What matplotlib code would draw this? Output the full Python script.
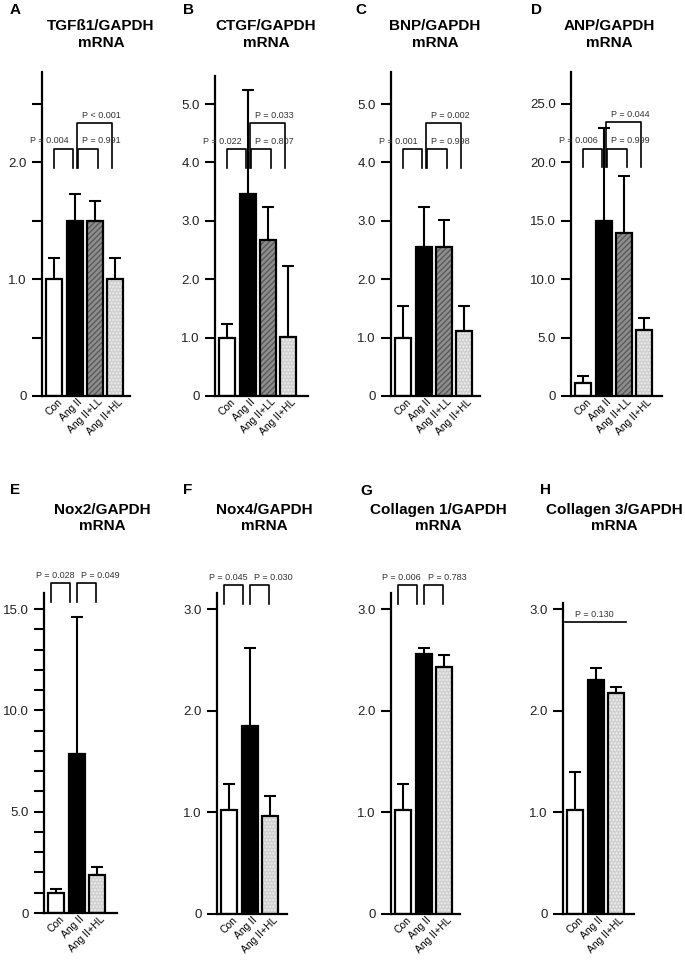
import numpy as np
import matplotlib
matplotlib.use('Agg')
import matplotlib.pyplot as plt
from matplotlib.transforms import ScaledTranslation

plt.rcParams['font.family'] = ['Liberation Sans', 'DejaVu Sans']

# ---- data ----
groups4 = ['Con', 'Ang II', 'Ang II+LL', 'Ang II+HL']
groups3 = ['Con', 'Ang II', 'Ang II+HL']

tgf_mean = [1.0, 1.5, 1.5, 1.0]
tgf_err = [0.18, 0.23, 0.17, 0.18]
ctgf_mean = [1.0, 3.46, 2.68, 1.01]
ctgf_err = [0.24, 1.78, 0.55, 1.22]
bnp_mean = [1.0, 2.56, 2.56, 1.12]
bnp_err = [0.55, 0.67, 0.45, 0.43]
anp_mean = [1.15, 15.0, 13.95, 5.6]
anp_err = [0.55, 7.9, 4.9, 1.1]

nox2_mean = [1.0, 7.85, 1.87]
nox2_err = [0.17, 6.75, 0.38]
nox4_mean = [1.02, 1.85, 0.96]
nox4_err = [0.26, 0.77, 0.2]
col1_mean = [1.02, 2.56, 2.43]
col1_err = [0.26, 0.06, 0.12]
col3_mean = [1.02, 2.30, 2.17]
col3_err = [0.38, 0.12, 0.06]

tgf_p = [(0, 1, 'P = 0.004'), (1, 2, 'P = 0.991'), (1, 3, 'P < 0.001')]
ctgf_p = [(0, 1, 'P = 0.022'), (1, 2, 'P = 0.807'), (1, 3, 'P = 0.033')]
bnp_p = [(0, 1, 'P = 0.001'), (1, 2, 'P = 0.998'), (1, 3, 'P = 0.002')]
anp_p = [(0, 1, 'P = 0.006'), (1, 2, 'P = 0.999'), (1, 3, 'P = 0.044')]
nox2_p = [(0, 1, 'P = 0.028'), (1, 2, 'P = 0.049')]
nox4_p = [(0, 1, 'P = 0.045'), (1, 2, 'P = 0.030')]
col1_p = [(0, 1, 'P = 0.006'), (1, 2, 'P = 0.783')]
col3_p = [(0, 2, 'P = 0.130')]

# ---- styling / layout ----
W, H = 685, 960
fig = plt.figure(figsize=(W / 100, H / 100), dpi=100)

bar_style = {
    'Con': dict(fc='white', hatch=None, hc='white'),
    'Ang II': dict(fc='black', hatch=None, hc='black'),
    'Ang II+LL': dict(fc='#8e8e8e', hatch='//////', hc='#5a5a5a'),
    'Ang II+HL': dict(fc='#d0d0d0', hatch='.....', hc='#eeeeee'),
}

# bracket end offsets (relative to bar index) and p-text offsets for each row
top_br = {(0, 1): (0.0, -0.1), (1, 2): (0.18, 0.13), (1, 3): (0.12, -0.16)}
bot_br = {(0, 1): (-0.25, -0.32), (1, 2): (0.02, -0.04)}
top_txt = (-0.3, 0.38)
bot_txt = (-0.12, 0.23)

lab_shift = ScaledTranslation(6 / 100, 4 / 100, fig.dpi_scale_trans)


def px_axes(x0, x1, y0, y1):
    return fig.add_axes([x0 / W, 1 - y1 / H, (x1 - x0) / W, (y1 - y0) / H])


def panel(box, groups, mean, err, ymax, ticks, labels, title, tpos, letter, lpos,
          pvals, levels, br_off, txt_off):
    ax = px_axes(*box)
    x = np.arange(len(groups))
    for i, g in enumerate(groups):
        s = bar_style[g]
        ax.bar(i, mean[i], width=0.78, color=s['fc'], hatch=s['hatch'],
               edgecolor=s['hc'], linewidth=0, zorder=2)
        ax.bar(i, mean[i], width=0.78, fill=False, edgecolor='black',
               linewidth=1.6, zorder=3)
    ax.errorbar(x, mean, yerr=[np.zeros(len(x)), err], fmt='none', ecolor='black',
                elinewidth=1.5, capsize=4.5, capthick=1.5, zorder=1)
    ax.set_xlim(-0.6, -0.6 + (box[1] - box[0]) / 20.4)
    ax.set_ylim(0, ymax)
    for sp in ['top', 'right']:
        ax.spines[sp].set_visible(False)
    for sp in ['left', 'bottom']:
        ax.spines[sp].set_linewidth(1.6)
    ax.set_yticks(ticks, labels)
    ax.tick_params(axis='y', length=7, width=1.5, labelsize=9.5, pad=4,
                   labelcolor='#222222')
    ax.set_xticks(x, groups, rotation=45, ha='right', va='center',
                  rotation_mode='anchor', fontsize=7.5)
    ax.tick_params(axis='x', length=0, pad=6)
    for lab in ax.get_xticklabels():
        lab.set_transform(lab.get_transform() + lab_shift)

    fig.text(tpos[0] / W, 1 - tpos[1] / H, title + '\nmRNA', ha='center', va='center',
             fontsize=11, fontweight='bold', linespacing=1.25)
    fig.text(lpos[0] / W, 1 - lpos[1] / H, letter, ha='left', va='center',
             fontsize=11, fontweight='bold')

    for k, (i, j, txt) in enumerate(pvals):
        if len(groups) == 3 and len(pvals) == 1:
            # plain line over all groups
            ax.plot([-0.49, 2.49], [levels[0], levels[0]], color='black', lw=1.2,
                    clip_on=False)
            ax.annotate(txt, (0.95, levels[0]), xytext=(0, 5.5), textcoords='offset points',
                        ha='center', va='center', fontsize=6.5, color='#333333',
                        annotation_clip=False)
            continue
        lo, hi = levels[0], levels[1 + (k == 2)]
        a, b = br_off[(i, j)]
        x0, x1 = i + a, j + b
        ax.plot([x0, x0, x1, x1], [lo, hi, hi, lo], color='black', lw=1.2,
                clip_on=False)
        if i == 0:
            xt, ha = j + txt_off[0], 'right'
        else:
            xt, ha = i + txt_off[1], 'left'
        ax.annotate(txt, (xt, hi), xytext=(0, 5.5), textcoords='offset points',
                    ha=ha, va='center', fontsize=6.5, color='#333333',
                    annotation_clip=False)
    return ax


t4 = [0, 1, 2, 3, 4, 5]
t4l = ['0', '1.0', '2.0', '3.0', '4.0', '5.0']
t3 = [0, 1, 2, 3]
t3l = ['0', '1.0', '2.0', '3.0']

panel((42, 130, 72, 396), groups4, tgf_mean, tgf_err, 2.77,
      [0, 0.5, 1, 1.5, 2, 2.5], ['0', '', '1.0', '', '2.0', ''],
      'TGFß1/GAPDH', (101, 34.5), 'A', (10, 10.5),
      tgf_p, (1.95, 2.115, 2.335), top_br, top_txt)
panel((215, 308, 76, 396), groups4, ctgf_mean, ctgf_err, 5.48, t4, t4l,
      'CTGF/GAPDH', (266, 34.5), 'B', (183, 10.5),
      ctgf_p, (3.9, 4.23, 4.68), top_br, top_txt)
panel((391, 480, 72, 396), groups4, bnp_mean, bnp_err, 5.55, t4, t4l,
      'BNP/GAPDH', (435, 34.5), 'C', (355, 10.5),
      bnp_p, (3.9, 4.23, 4.68), top_br, top_txt)
panel((571, 662, 72, 396), groups4, anp_mean, anp_err, 27.7,
      [0, 5, 10, 15, 20, 25], ['0', '5.0', '10.0', '15.0', '20.0', '25.0'],
      'ANP/GAPDH', (609, 34.5), 'D', (531, 10.5),
      anp_p, (19.55, 21.15, 23.4), top_br, top_txt)

panel((44, 117, 593, 913), groups3, nox2_mean, nox2_err, 15.8,
      list(range(16)), [('0' if v == 0 else f'{v:.1f}') if v % 5 == 0 else '' for v in range(16)],
      'Nox2/GAPDH', (102, 518), 'E', (10, 490),
      nox2_p, (15.35, 16.3), bot_br, bot_txt)
panel((217, 287, 593, 914), groups3, nox4_mean, nox4_err, 3.16, t3, t3l,
      'Nox4/GAPDH', (264, 518), 'F', (183, 490),
      nox4_p, (3.05, 3.24), bot_br, bot_txt)
panel((391, 460, 593, 914), groups3, col1_mean, col1_err, 3.16, t3, t3l,
      'Collagen 1/GAPDH', (438, 518), 'G', (360, 491),
      col1_p, (3.05, 3.24), bot_br, bot_txt)
panel((563, 634, 603, 914), groups3, col3_mean, col3_err, 3.06, t3, t3l,
      'Collagen 3/GAPDH', (614, 518), 'H', (540, 490),
      col3_p, (2.87,), bot_br, bot_txt)

fig.savefig('out.png', dpi=100)
